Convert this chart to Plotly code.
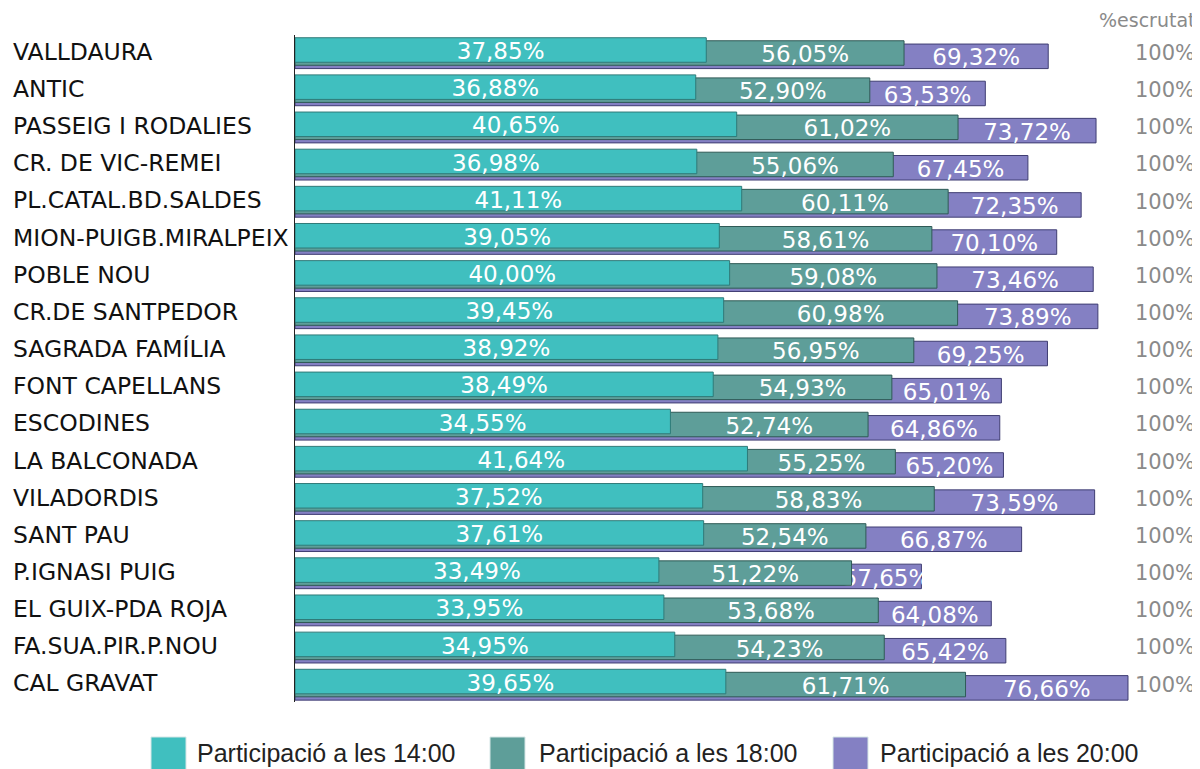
import plotly.graph_objects as go

categories = ["VALLDAURA", "ANTIC", "PASSEIG I RODALIES", "CR. DE VIC-REMEI",
              "PL.CATAL.BD.SALDES", "MION-PUIGB.MIRALPEIX", "POBLE NOU",
              "CR.DE SANTPEDOR", "SAGRADA FAMÍLIA", "FONT CAPELLANS", "ESCODINES",
              "LA BALCONADA", "VILADORDIS", "SANT PAU", "P.IGNASI PUIG",
              "EL GUIX-PDA ROJA", "FA.SUA.PIR.P.NOU", "CAL GRAVAT"]
p14 = [37.85, 36.88, 40.65, 36.98, 41.11, 39.05, 40.00, 39.45, 38.92, 38.49,
       34.55, 41.64, 37.52, 37.61, 33.49, 33.95, 34.95, 39.65]
p18 = [56.05, 52.90, 61.02, 55.06, 60.11, 58.61, 59.08, 60.98, 56.95, 54.93,
       52.74, 55.25, 58.83, 52.54, 51.22, 53.68, 54.23, 61.71]
p20 = [69.32, 63.53, 73.72, 67.45, 72.35, 70.10, 73.46, 73.89, 69.25, 65.01,
       64.86, 65.20, 73.59, 66.87, 57.65, 64.08, 65.42, 76.66]
escrutat = ["100%"] * len(categories)
series_names = ["Participació a les 14:00", "Participació a les 18:00", "Participació a les 20:00"]

fill = ["#40BFBF", "#5E9E99", "#8480C3"]
edge = ["#2F7A78", "#2F5A56", "#3F3D72"]

def fmt(v):
    return f"{v:.2f}".replace(".", ",") + "%"

rows = list(range(len(categories)))
off = [0.0, 0.081, 0.17]
bw = 0.66

fig = go.Figure()

def add_series(k, vals, prev):
    ys = [r + off[k] for r in rows]
    fig.add_trace(go.Bar(
        x=vals, y=ys, orientation="h", width=bw,
        marker=dict(color=fill[k], line=dict(color=edge[k], width=1)),
        name=series_names[k], showlegend=False, hoverinfo="skip"))
    base = prev if prev is not None else [0] * len(vals)
    fig.add_trace(go.Bar(
        x=[v - b for v, b in zip(vals, base)], base=base, y=[y + 0.03 for y in ys],
        orientation="h", width=bw,
        marker=dict(color="rgba(0,0,0,0)", line=dict(width=0)),
        text=[fmt(v) for v in vals], textposition="inside", insidetextanchor="middle",
        constraintext="none", textangle=0,
        insidetextfont=dict(family="DejaVu Sans", size=23, color="white"),
        showlegend=False, hoverinfo="skip"))

add_series(2, p20, p18)
add_series(1, p18, p14)
add_series(0, p14, None)

# page body has an 8px margin; positions below are reference pixels minus that offset
OX, OY = 8, 8
W, H = 1200 - OX, 769 - OY
L = 295 - OX
T = 35 - OY
R = W - (1130 - OX)
B = H - (702 - OY)
pw = W - L - R
ph = H - T - B
pxpct = 10.866
rowpx = 37.15
ytop = -(50 - 35) / rowpx
ybot = ytop + ph / rowpx

def px(xr):
    return (xr - 295) / pw

def py(yr):
    return (702 - yr) / ph

annotations = []
for r, c in zip(rows, categories):
    annotations.append(dict(x=px(11), xref="paper", y=r + 0.05, yref="y",
                            text=c, showarrow=False, xanchor="left", yanchor="middle",
                            font=dict(family="DejaVu Sans", size=23.5, color="#111")))
for r, e in zip(rows, escrutat):
    annotations.append(dict(x=px(1197), xref="paper", y=r + 0.08, yref="y",
                            text=e, showarrow=False, xanchor="right", yanchor="middle",
                            font=dict(family="DejaVu Sans", size=21, color="#8a8a8a")))
annotations.append(dict(x=px(1197), xref="paper", y=py(20), yref="paper",
                        text="%escrutat", showarrow=False, xanchor="right", yanchor="middle",
                        font=dict(family="DejaVu Sans", size=19, color="#8a8a8a")))

shapes = []
leg_x = [151, 490, 833]
leg_tx = [195, 537, 878]
for k in range(3):
    shapes.append(dict(type="rect", xref="paper", yref="paper",
                       x0=px(leg_x[k]), x1=px(leg_x[k] + 35), y0=py(775), y1=py(737),
                       fillcolor=fill[k], line=dict(color="#d5e6e6", width=1)))
    annotations.append(dict(x=px(leg_tx[k]), xref="paper", y=py(753),
                            yref="paper", text=series_names[k], showarrow=False,
                            xanchor="left", yanchor="middle",
                            font=dict(family="Liberation Sans", size=25, color="#222")))

fig.update_layout(
    width=W, height=H, barmode="overlay",
    margin=dict(l=L, r=R, t=T, b=B),
    paper_bgcolor="white", plot_bgcolor="white",
    showlegend=False,
    xaxis=dict(range=[0, pw / pxpct], visible=False, fixedrange=True, showgrid=False),
    yaxis=dict(range=[ybot, ytop], showticklabels=False, showgrid=False, zeroline=False,
               showline=True, linecolor="#222", linewidth=1, ticks=""),
    annotations=annotations, shapes=shapes,
)

fig.write_html("out.html")
